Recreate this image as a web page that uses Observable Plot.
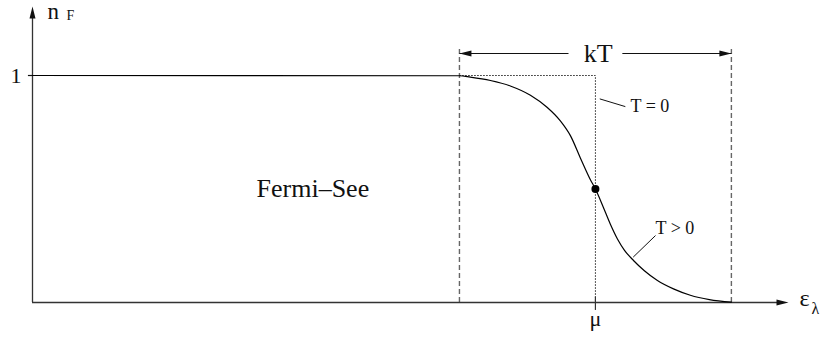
<!DOCTYPE html>
<html>
<head>
<meta charset="utf-8">
<script src="https://cdn.jsdelivr.net/npm/d3@7"></script>
<script src="https://cdn.jsdelivr.net/npm/@observablehq/plot@0.6"></script>
<style>
  body { margin: 0; background: #fff; }
</style>
</head>
<body>
<div id="chart"></div>
<script>
// Fermi–Dirac occupation n_F(ε) around the chemical potential μ (energy measured from μ, in kT units)
const energy = [-20.7, -5.0, -4.6, -3.86, -3.13, -2.39, -1.78, -1.29, -0.92, -0.55, -0.18, 0,
                0.29, 0.55, 0.81, 1.07, 1.40, 1.80, 2.28, 2.87, 3.49, 4.19, 5.0];
const occupation = [1, 0.999, 0.993, 0.978, 0.954, 0.913, 0.86, 0.80, 0.735, 0.636, 0.54, 0.5,
                    0.42, 0.345, 0.28, 0.23, 0.185, 0.14, 0.097, 0.06, 0.032, 0.013, 0.002];

// T = 0 step function
const stepEnergy = [-5, 0, 0];
const stepOccupation = [1, 1, 0];

// chemical potential and its occupation
const mu = 0;
const muOccupation = 0.5;

// thermal smearing window and the kT dimension line
const windowEdges = [-5, 5];
const windowTop = 1.123;
const kTLevel = 1.097;
const kTStart = [-5, 0.99];
const kTEnd = [-0.99, 5];

// axis extent
const xMin = -20.7, xMax = 7.1, yMax = 1.304;

// leader lines for the curve labels
const leaderX1 = [0.16, 1.39];
const leaderY1 = [0.897, 0.2];
const leaderX2 = [1.10, 2.21];
const leaderY2 = [0.863, 0.295];

// filled arrowhead with its tip at the origin, pointing along +x
const arrowHead = {
  draw(context) {
    context.moveTo(0, 0);
    context.lineTo(-12, -3);
    context.lineTo(-12, 3);
    context.closePath();
  }
};
const headX = [xMax, xMin, windowEdges[0], windowEdges[1]];
const headY = [0, yMax, kTLevel, kTLevel];
const headAngle = [0, -90, 180, 0];

const serif = "'Liberation Serif', serif";

function label(text, x, y, {size = 18, anchor = "middle", dx = 0, dy = 0} = {}) {
  return Plot.text([text], {
    x: () => x, y: () => y, text: d => d,
    fontSize: size, textAnchor: anchor, lineAnchor: "middle",
    dx, dy, fill: "#111", fontFamily: serif
  });
}

const idx = (a) => d3.range(a.length);

const chart = Plot.plot({
  width: 823,
  height: 340,
  marginLeft: 32,
  marginRight: 35,
  marginTop: 6,
  marginBottom: 38,
  x: {domain: [xMin, xMax], axis: null},
  y: {domain: [0, yMax], axis: null},
  style: {background: "#fff", fontFamily: serif},
  marks: [
    // smearing window edges
    Plot.ruleX(windowEdges, {y1: 0, y2: windowTop, stroke: "#666", strokeWidth: 1.4, strokeDasharray: "5,3"}),
    // T = 0 step (dotted)
    Plot.line(idx(stepEnergy), {x: i => stepEnergy[i], y: i => stepOccupation[i],
      stroke: "#444", strokeWidth: 1, strokeDasharray: "1,2"}),
    // axes
    Plot.ruleY([0], {x1: xMin, x2: xMax - 0.2, stroke: "#333", strokeWidth: 1.3}),
    Plot.ruleX([xMin], {y1: 0, y2: yMax - 0.04, stroke: "#333", strokeWidth: 1.3}),
    // tick marks at n = 1 and at μ
    Plot.ruleY([1], {x1: xMin - 0.15, x2: xMin, stroke: "#111", strokeWidth: 1.2}),
    Plot.ruleX([mu], {y1: -0.035, y2: 0.024, stroke: "#333", strokeWidth: 1.2}),
    // kT dimension line
    Plot.link(idx(kTStart), {x1: i => kTStart[i], x2: i => kTEnd[i], y1: kTLevel, y2: kTLevel,
      stroke: "#111", strokeWidth: 1.1}),
    // arrowheads
    Plot.dot(idx(headX), {x: i => headX[i], y: i => headY[i], rotate: i => headAngle[i],
      symbol: arrowHead, fill: "#111", stroke: "none"}),
    // Fermi function at T > 0
    Plot.line(idx(energy), {x: i => energy[i], y: i => occupation[i], curve: "monotone-x",
      stroke: "#000", strokeWidth: 1.2}),
    Plot.dot([mu], {x: d => d, y: muOccupation, r: 4, fill: "#000", stroke: "none"}),
    // leader lines
    Plot.link(idx(leaderX1), {x1: i => leaderX1[i], y1: i => leaderY1[i],
      x2: i => leaderX2[i], y2: i => leaderY2[i], stroke: "#111", strokeWidth: 1}),
    // labels
    label("Fermi–See", -10.39, 0.5, {size: 26}),
    label("kT", 0.1, kTLevel, {size: 26}),
    label("T = 0", 1.29, 0.8625, {size: 18, anchor: "start"}),
    label("T > 0", 2.21, 0.325, {size: 18, anchor: "start"}),
    label("1", xMin, 1, {size: 22, anchor: "end", dx: -11}),
    label("n", xMin, yMax, {size: 23, anchor: "start", dx: 15, dy: 5}),
    label("F", xMin, yMax, {size: 14, anchor: "start", dx: 34, dy: 9}),
    label("μ", mu, 0, {size: 22, dy: 16}),
    label("ε", xMax, 0, {size: 24, anchor: "start", dx: 11, dy: -4}),
    label("λ", xMax, 0, {size: 16, anchor: "start", dx: 23, dy: 6})
  ]
});

document.getElementById("chart").appendChild(chart);
</script>
</body>
</html>
